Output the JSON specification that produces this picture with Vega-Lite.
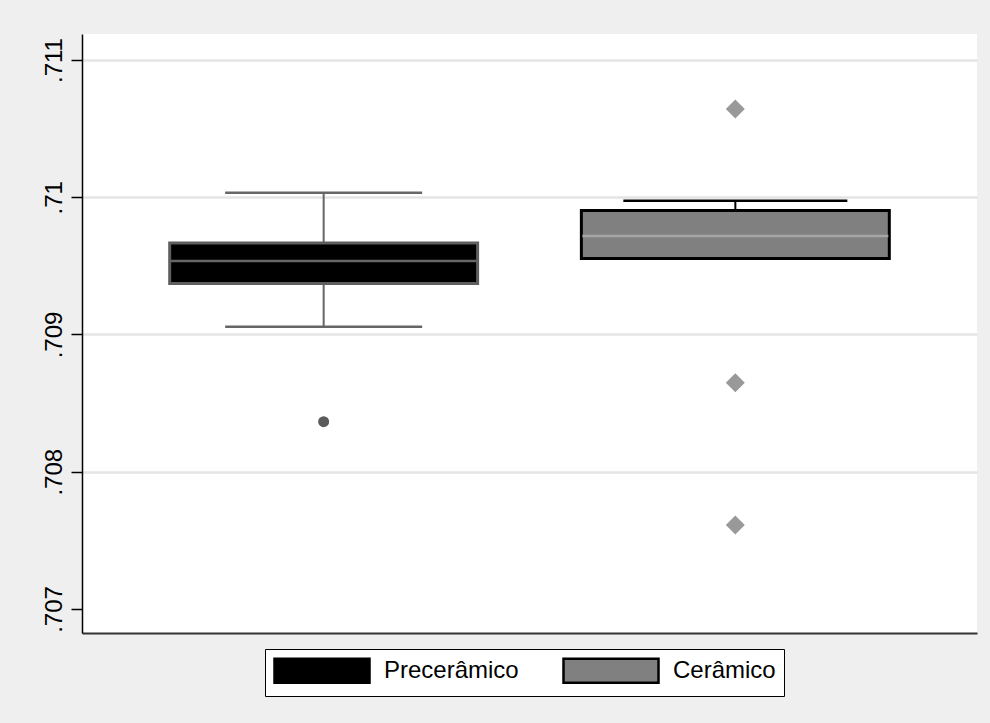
{
  "$schema": "https://vega.github.io/schema/vega-lite/v6.json",
  "width": 895,
  "height": 599,
  "autosize": "none",
  "padding": {"left": 82, "top": 34, "right": 13, "bottom": 90},
  "background": "#efefef",
  "datasets": {
    "boxes": [
      {"grupo": "Precerâmico", "lower": 0.709057, "q1": 0.709372, "median": 0.709536, "q3": 0.709667, "upper": 0.710033},
      {"grupo": "Cerâmico", "lower": 0.709554, "q1": 0.709554, "median": 0.709718, "q3": 0.709903, "upper": 0.709975}
    ],
    "outliers": [
      {"grupo": "Precerâmico", "value": 0.708365},
      {"grupo": "Cerâmico", "value": 0.710643},
      {"grupo": "Cerâmico", "value": 0.708649},
      {"grupo": "Cerâmico", "value": 0.707612}
    ]
  },
  "encoding": {
    "x": {
      "field": "grupo",
      "type": "nominal",
      "title": null,
      "scale": {"domain": ["Precerâmico", "Cerâmico"], "paddingInner": 0.252, "paddingOuter": 0.213},
      "axis": {"labels": false, "ticks": false, "domain": true, "domainColor": "#333333", "domainWidth": 2, "grid": false, "title": null}
    }
  },
  "layer": [
    {
      "data": {"name": "boxes"},
      "mark": {"type": "rule", "strokeWidth": 2},
      "encoding": {
        "y": {
          "field": "lower",
          "type": "quantitative",
          "title": null,
          "scale": {"domain": [0.7068251, 0.7111894], "nice": false, "zero": false},
          "axis": {
            "values": [0.707, 0.708, 0.709, 0.71, 0.711],
            "labelExpr": "replace(format(datum.value, '.3~f'), '0.', '.')",
            "labelAngle": -90,
            "labelFontSize": 24,
            "labelFont": "Liberation Sans",
            "labelColor": "#000000",
            "labelPadding": 5,
            "tickSize": 11,
            "tickColor": "#000000",
            "tickWidth": 1.5,
            "domainColor": "#000000",
            "domainWidth": 1.5,
            "grid": true,
            "gridColor": {"condition": {"test": "datum.value < 0.7075", "value": "transparent"}, "value": "#e4e4e4"},
            "gridWidth": 2.5,
            "title": null
          }
        },
        "y2": {"field": "upper"},
        "stroke": {"condition": {"test": "datum.grupo === 'Precerâmico'", "value": "#666666"}, "value": "#000000"}
      }
    },
    {
      "data": {"name": "boxes"},
      "mark": {"type": "tick", "thickness": 2.5, "opacity": 1},
      "encoding": {
        "y": {"field": "lower", "type": "quantitative"},
        "color": {"condition": {"test": "datum.grupo === 'Precerâmico'", "value": "#666666"}, "value": "#000000"},
        "size": {"condition": {"test": "datum.grupo === 'Precerâmico'", "value": 197}, "value": 224}
      }
    },
    {
      "data": {"name": "boxes"},
      "mark": {"type": "tick", "thickness": 2.5, "opacity": 1},
      "encoding": {
        "y": {"field": "upper", "type": "quantitative"},
        "color": {"condition": {"test": "datum.grupo === 'Precerâmico'", "value": "#666666"}, "value": "#000000"},
        "size": {"condition": {"test": "datum.grupo === 'Precerâmico'", "value": 197}, "value": 224}
      }
    },
    {
      "data": {"name": "boxes"},
      "mark": {"type": "bar", "strokeWidth": 3, "opacity": 1},
      "encoding": {
        "y": {"field": "q1", "type": "quantitative"},
        "y2": {"field": "q3"},
        "fill": {
          "field": "grupo",
          "type": "nominal",
          "scale": {"domain": ["Precerâmico", "Cerâmico"], "range": ["#000000", "#808080"]},
          "legend": {
            "title": null,
            "orient": "none",
            "legendX": 183,
            "legendY": 615,
            "direction": "horizontal",
            "columns": 2,
            "symbolType": "M-1,-1H6.917V1H-1Z",
            "symbolSize": 576,
            "symbolStrokeWidth": 2.5,
            "symbolOpacity": 1,
            "labelFontSize": 24,
            "labelFont": "Liberation Sans",
            "labelColor": "#000000",
            "labelOffset": 84,
            "columnPadding": 39,
            "padding": 8,
            "strokeColor": "#000000",
            "fillColor": "#ffffff",
            "labelLimit": 300,
            "encode": {
              "symbols": {
                "update": {
                  "stroke": {"signal": "datum.value === 'Precerâmico' ? '#555555' : '#9a9a9a'"},
                  "strokeWidth": {"value": 2.5}
                }
              }
            }
          }
        },
        "stroke": {"condition": {"test": "datum.grupo === 'Precerâmico'", "value": "#5f5f5f"}, "value": "#000000"}
      }
    },
    {
      "data": {"name": "boxes"},
      "mark": {"type": "tick", "thickness": 2.5, "opacity": 1, "size": 306},
      "encoding": {
        "y": {"field": "median", "type": "quantitative"},
        "color": {"condition": {"test": "datum.grupo === 'Precerâmico'", "value": "#666666"}, "value": "#a6a6a6"}
      }
    },
    {
      "data": {"name": "outliers"},
      "mark": {"type": "point", "filled": true, "opacity": 1},
      "encoding": {
        "y": {"field": "value", "type": "quantitative"},
        "shape": {"condition": {"test": "datum.grupo === 'Precerâmico'", "value": "circle"}, "value": "diamond"},
        "size": {"condition": {"test": "datum.grupo === 'Precerâmico'", "value": 121}, "value": 361},
        "color": {"condition": {"test": "datum.grupo === 'Precerâmico'", "value": "#5a5a5a"}, "value": "#999999"}
      }
    }
  ],
  "config": {
    "view": {"fill": "#ffffff", "stroke": null},
    "font": "Liberation Sans"
  }
}
